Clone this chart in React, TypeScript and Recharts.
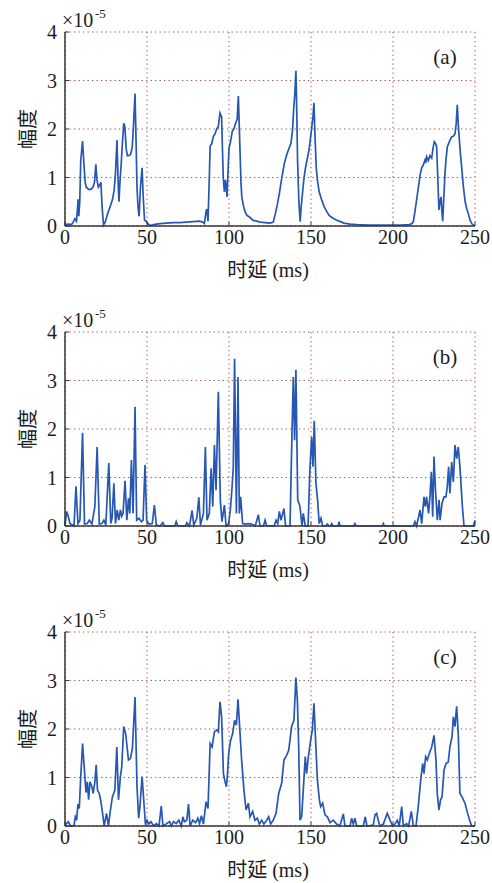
import React from 'react'
import { LineChart, Line, XAxis, YAxis, CartesianGrid } from 'recharts'

// time delay (ms) and amplitude (x1e-5)
const timeA = [
  0, 2, 4, 5, 6, 7, 7.6, 8, 8.4, 9,
  9.6, 10.7, 11.5, 12.3, 13, 14.5, 16, 17, 18, 18.8,
  19.5, 20.3, 21.2, 21.9, 22.6, 23.5, 24.5, 26, 28, 29,
  30, 30.8, 31.7, 32.3, 32.9, 33.5, 34.3, 35, 35.8, 36.5,
  37.3, 38, 39, 40, 41, 41.8, 42.7, 43.3, 43.9, 44.5,
  45.2, 46, 47, 47.7, 48.5, 49.5, 50.5, 52, 54, 58,
  62, 66, 70, 74, 78, 82, 84, 85, 86, 86.5,
  87.2, 88, 88.5, 89.5, 90.5, 91.5, 92.5, 93.5, 94.5, 95.5,
  96, 96.5, 97.2, 97.8, 98.3, 98.8, 99.5, 100, 101, 102,
  103, 104, 105, 105.7, 106.5, 107.3, 107.8, 108.8, 109.7, 111,
  112.7, 114.5, 116.8, 119, 122, 125, 127, 128.3, 129.5, 130.7,
  132, 133.8, 135.5, 137.8, 138.8, 139.4, 140.1, 140.8, 141.3, 141.8,
  142.6, 143.4, 144, 144.8, 145.6, 146.4, 147.5, 148.8, 150, 151.2,
  151.8, 152.5, 153.2, 153.9, 155, 156.5, 158, 159.6, 161, 163,
  165.7, 168, 170, 173.8, 178, 185, 195, 205, 210, 211.5,
  212.4, 213.4, 214.4, 215.5, 216.5, 217.5, 218.5, 219.5, 220, 220.5,
  221.5, 222.5, 223.6, 224.4, 225.2, 226, 226.6, 227.3, 228, 228.6,
  229.3, 229.8, 230.3, 231, 231.7, 232.4, 233.1, 234.5, 235.8, 236.8,
  237.8, 238.5, 239.2, 239.8, 240.9, 241.9, 242.9, 244, 245, 245.9,
  247, 248, 249, 250,
]
const ampA = [
  0.03, 0.04, 0.03, 0.08, 0.15, 0.1, 0.35, 0.55, 0.2, 0.5,
  1.35, 1.75, 1.3, 0.9, 0.8, 0.75, 0.76, 0.8, 0.9, 1.27,
  0.95, 0.8, 0.85, 0.9, 0.4, 0.02, 0.08, 0.25, 0.45, 0.55,
  0.75, 1.1, 1.77, 1.0, 0.5, 0.9, 1.3, 1.7, 2.12, 2.05,
  1.6, 1.45, 1.45, 1.48, 1.62, 2.1, 2.73, 1.8, 0.8, 0.4,
  0.2, 0.8, 1.2, 0.6, 0.12, 0.1, 0.05, 0.01, 0.03, 0.05,
  0.06, 0.07, 0.07, 0.08, 0.09, 0.1, 0.08, 0.05, 0.3, 0.35,
  0.1, 1.0, 1.65, 1.7, 1.85, 1.9, 2.0, 2.05, 2.33, 2.25,
  1.6, 1.0, 0.7, 0.95, 0.8, 0.6, 1.2, 1.6, 1.75, 1.95,
  2.0, 2.12, 2.2, 2.68, 1.8, 0.9, 0.6, 0.42, 0.3, 0.22,
  0.18, 0.12, 0.1, 0.08, 0.07, 0.06, 0.08, 0.26, 0.45, 0.67,
  0.95, 1.3, 1.5, 1.71, 2.0, 2.39, 2.7, 3.2, 2.4, 1.36,
  0.5, 0.09, 0.4, 0.67, 0.95, 1.15, 1.35, 1.57, 1.9, 2.25,
  2.54, 1.8, 1.2, 0.95, 0.7, 0.54, 0.4, 0.3, 0.22, 0.17,
  0.12, 0.09, 0.06, 0.04, 0.03, 0.02, 0.02, 0.02, 0.03, 0.05,
  0.09, 0.3, 0.54, 0.8, 1.05, 1.2, 1.26, 1.36, 1.3, 1.43,
  1.35, 1.45, 1.4, 1.6, 1.74, 1.7, 1.64, 1.0, 0.33, 0.5,
  0.6, 0.3, 0.1, 0.6, 1.09, 1.4, 1.63, 1.75, 1.84, 1.85,
  1.9, 2.1, 2.5, 2.1, 1.57, 1.2, 0.81, 0.5, 0.35, 0.26,
  0.12, 0.05, 0.02, 0.01,
]

const timeB = [
  0, 1, 2, 3, 4, 5.5, 6.7, 7.9, 9.1, 10.7,
  11.9, 13.6, 14.8, 16.4, 18.2, 19.6, 20.9, 22.5, 23.7, 24.9,
  26.7, 27.9, 28.7, 29.8, 30.8, 31.8, 32.8, 33.8, 34.6, 35.4,
  36.6, 37.7, 38.7, 39.5, 40.5, 41.5, 42.7, 43.7, 45.1, 46.6,
  47.6, 48.8, 49.8, 51.2, 53.2, 54.5, 55.7, 58, 59.7, 60.7,
  67, 67.8, 68.8, 73.5, 74.3, 75.9, 77.5, 78.5, 80.4, 81.6,
  82.6, 84.4, 85.6, 86.6, 88, 89.1, 90.1, 91.1, 92.1, 93.5,
  94.7, 95.7, 97.2, 98.2, 99.8, 100.8, 101.6, 102.6, 103.4, 104.5,
  105.5, 106.3, 107.1, 108.3, 109.7, 111.8, 113.8, 116, 117.9, 118.9,
  121, 122, 123, 127.5, 128.7, 129.7, 130.7, 131.7, 133.5, 134.5,
  137.2, 138.4, 139.2, 140, 140.8, 141.9, 143.3, 144.5, 145.3, 146.5,
  148.2, 149.4, 150.4, 151.2, 152, 153, 154, 155, 156.1, 157.1,
  159, 160, 161, 162, 162.6, 163.5, 166.5, 167.1, 167.7, 176,
  176.8, 177.5, 193.5, 194.1, 194.8, 212.4, 213.4, 214.4, 216.5, 217.5,
  218.9, 219.7, 220.5, 221.7, 222.5, 223.4, 224.2, 225, 225.8, 227,
  228.1, 228.7, 229.9, 231.1, 232.3, 233.1, 233.9, 234.7, 235.8, 236.8,
  237.8, 238.8, 239.8, 240.8, 242.3, 243.3, 249, 250,
]
const ampB = [
  0.02, 0.3, 0.2, 0.05, 0.03, 0, 0.82, 0.05, 0.12, 1.92,
  0.04, 0.05, 0.12, 0.04, 0.4, 1.63, 0.04, 0.05, 0.12, 0.02,
  1.3, 0.05, 0.16, 0.88, 0.05, 0.33, 0.12, 0.33, 0.2, 0.26,
  0.93, 0.12, 0.57, 0.26, 1.36, 0.26, 2.46, 0.12, 0.16, 0.09,
  0.12, 1.26, 0.12, 0.04, 0.05, 0.43, 0.02, 0, 0.07, 0,
  0, 0.09, 0, 0, 0.07, 0, 0.32, 0.02, 0.16, 0.59,
  0.02, 0.26, 1.63, 0.12, 0.26, 1.19, 0.4, 1.67, 0.74, 2.77,
  0.54, 0.09, 0.43, 0, 0.05, 0.33, 0.67, 1.19, 3.45, 0.26,
  3.07, 0.26, 0.6, 0.05, 0.04, 0.05, 0.04, 0, 0.23, 0,
  0, 0.12, 0, 0, 0.12, 0.05, 0.3, 0.12, 0.36, 0,
  0, 1.9, 3.07, 1.77, 3.22, 0.54, 0.4, 0, 0.26, 0,
  0, 1.22, 1.84, 1.22, 2.17, 0.88, 0.54, 0.05, 0.16, 0,
  0, 0.04, 0, 0, 0.05, 0, 0, 0.09, 0, 0,
  0.05, 0, 0, 0.05, 0, 0, 0.09, 0, 0.33, 0.05,
  0.6, 0.4, 0.6, 0.26, 0.6, 1.12, 0.19, 1.43, 0.81, 0.12,
  0.54, 0.12, 0.47, 0.6, 0.6, 0.81, 1.22, 0.67, 1.32, 0.91,
  1.67, 1.39, 1.63, 1.22, 0.4, 0, 0, 0.12,
]

const timeC = [
  0, 0.6, 2, 3.4, 5.5, 6.3, 7.1, 7.9, 8.7, 9.5,
  10.7, 11.7, 12.8, 13.6, 14.4, 15.2, 16.4, 17.2, 18.2, 19,
  19.8, 20.9, 21.9, 22.9, 23.9, 25.3, 26.5, 27.7, 28.9, 30.4,
  31.6, 32.6, 33.8, 34.6, 35.8, 37, 38.7, 39.9, 41.1, 42.7,
  43.9, 44.9, 45.7, 47, 48, 49, 50, 51.2, 52.4, 54,
  55.7, 57.3, 58.7, 59.7, 61.7, 63.8, 64.8, 66.2, 67.8, 69.4,
  70.9, 71.9, 72.8, 74.3, 75.3, 76.3, 77.9, 79.6, 81, 82,
  83.2, 84.4, 86, 87.2, 88.5, 89.7, 91.1, 92.5, 93.5, 94.5,
  95.5, 96.6, 97.6, 98.4, 99, 99.8, 101, 102.2, 103.4, 104.5,
  105.5, 107.7, 109.1, 110.4, 111.8, 112.8, 114.4, 115.8, 117.3, 118.5,
  119.9, 121.3, 123, 124.2, 125.4, 127, 128.7, 130.3, 132.1, 133.5,
  135.2, 136.4, 138.2, 139.6, 140.8, 141.7, 142.5, 143.3, 144.3, 145.3,
  146.5, 147.3, 148.4, 149.8, 150.8, 151.8, 152.8, 153.9, 155.1, 155.9,
  157.1, 158.5, 160, 161.6, 163.6, 165.6, 167.6, 169.7, 170.7, 173.8,
  174.8, 175.8, 176.8, 177.8, 181.9, 183.1, 184.1, 188, 189, 190,
  191, 192, 194.1, 196.5, 198.2, 199.8, 201.2, 202.6, 203.8, 205.3,
  206.3, 208.3, 209.5, 211.2, 212.4, 214, 215.4, 216.9, 218.1, 218.9,
  219.9, 220.9, 222.2, 223.6, 225, 226.2, 227, 228, 229, 229.9,
  231.1, 232.3, 233.7, 234.7, 236, 236.8, 237.8, 238.8, 239.8, 240.8,
  242.1, 243.9, 245.5, 247, 248, 250,
]
const ampC = [
  0.02, 0.04, 0.09, 0, 0.01, 0.19, 0.12, 0.45, 0.36, 0.95,
  1.7, 1.22, 0.69, 0.91, 0.54, 0.91, 0.81, 0.67, 0.91, 1.26,
  0.74, 0.67, 0.5, 0.26, 0, 0.26, 0, 0.33, 0.6, 0.74,
  1.63, 0.54, 1.02, 1.22, 2.05, 1.9, 1.36, 1.39, 1.6, 2.66,
  0.81, 0.16, 0.4, 1.02, 0.54, 0.05, 0.12, 0.04, 0.09, 0,
  0.05, 0, 0.41, 0, 0.04, 0.09, 0, 0.09, 0.05, 0.12,
  0, 0.19, 0.09, 0.12, 0.45, 0, 0.12, 0.07, 0.16, 0.05,
  0.21, 0.04, 0.5, 0.36, 1.7, 1.63, 1.94, 1.98, 1.94, 2.56,
  2.25, 1.08, 0.91, 0.81, 1.02, 1.5, 1.77, 1.9, 2.18, 2.08,
  2.61, 1.36, 0.74, 0.33, 0.47, 0.19, 0.3, 0.12, 0.16, 0.04,
  0.12, 0.04, 0.12, 0.19, 0.04, 0.12, 0.26, 0.67, 0.88, 1.36,
  1.46, 1.56, 2.05, 2.18, 3.06, 2.59, 1.63, 0.12, 0.19, 0.74,
  1.43, 1.08, 1.43, 1.77, 1.98, 2.53, 1.77, 0.95, 0.54, 0.4,
  0.47, 0.23, 0.19, 0.07, 0.12, 0.04, 0, 0.25, 0, 0,
  0.16, 0.04, 0.16, 0, 0, 0.19, 0, 0.02, 0.23, 0.26,
  0.12, 0, 0.04, 0.26, 0.12, 0, 0.04, 0.12, 0, 0.4,
  0, 0.05, 0, 0.3, 0, 0, 0.4, 0.95, 1.29, 1.08,
  1.43, 1.36, 1.5, 1.63, 1.87, 1.36, 0.67, 0.33, 0.54, 0.6,
  1.15, 1.29, 1.32, 1.63, 1.84, 2.25, 2.05, 2.47, 1.9, 0.67,
  0.6, 0.47, 0.26, 0.09, 0, 0,
]

const xTicks = [0, 50, 100, 150, 200, 250]
const yTicks = [0, 1, 2, 3, 4]
const tags = ['(a)', '(b)', '(c)']

const SERIF = '"Liberation Serif", "Times New Roman", "Noto Sans CJK SC", serif'
const LINE = '#2557b3'
const AXIS = '#3b3535'
const GRID = '#a3504c'

const tickStyle = { fontSize: 20, fill: '#1c1c1c', fontFamily: SERIF }

const XTitle = (props: any) => {
  const vb = props.viewBox
  return (
    <text
      x={vb.x + vb.width / 2 - 2}
      y={vb.y + 44}
      textAnchor="middle"
      dominantBaseline="central"
      fontSize={20}
      fontFamily={SERIF}
      fill="#1c1c1c"
    >
      时延 (ms)
    </text>
  )
}

const YTitle = (props: any) => {
  const vb = props.viewBox
  const cx = vb.x + vb.width - 39
  const cy = vb.y + vb.height / 2
  return (
    <text
      x={cx}
      y={cy}
      transform={`rotate(-90 ${cx} ${cy})`}
      textAnchor="middle"
      dominantBaseline="central"
      fontSize={20}
      fontFamily='"Noto Sans CJK SC", sans-serif'
      fill="#1c1c1c"
    >
      幅度
    </text>
  )
}

function Panel({ time, amp, tag }: { time: number[]; amp: number[]; tag: string }) {
  const data = time.map((t, i) => ({ t, v: amp[i] }))
  return (
    <div style={{ position: 'relative', width: 492, height: 300 }}>
      <LineChart width={492} height={300} data={data} margin={{ top: 32, right: 17, bottom: 0, left: 0 }}>
        <CartesianGrid stroke={GRID} strokeDasharray="1.3 3.2" strokeWidth={1} />
        <XAxis
          type="number"
          dataKey="t"
          domain={[0, 250]}
          ticks={xTicks}
          height={74}
          interval={0}
          tickSize={-4}
          tickMargin={8}
          tickLine={{ stroke: AXIS, strokeWidth: 1 }}
          tick={tickStyle}
          stroke={AXIS}
          strokeWidth={1.5}
          label={{ content: XTitle }}
        />
        <YAxis
          type="number"
          domain={[0, 4]}
          ticks={yTicks}
          width={65}
          interval={0}
          tickSize={-4}
          tickMargin={12}
          tickLine={{ stroke: AXIS, strokeWidth: 1 }}
          tick={tickStyle}
          stroke={AXIS}
          strokeWidth={1.5}
          label={{ content: YTitle }}
        />
        <Line type="linear" dataKey="v" stroke={LINE} strokeWidth={1.7} dot={false} isAnimationActive={false} />
      </LineChart>
      <span style={{ position: 'absolute', left: 62, top: 10, fontSize: 20, lineHeight: '20px', fontFamily: SERIF, color: '#1c1c1c' }}>
        ×10
      </span>
      <span style={{ position: 'absolute', left: 95, top: 7, fontSize: 13, lineHeight: '13px', fontFamily: SERIF, color: '#1c1c1c' }}>
        -5
      </span>
      <span
        style={{
          position: 'absolute',
          left: 420,
          width: 50,
          textAlign: 'center',
          top: 47,
          fontSize: 21,
          lineHeight: '21px',
          fontFamily: SERIF,
          color: '#1c1c1c',
        }}
      >
        {tag}
      </span>
    </div>
  )
}

export default function App() {
  return (
    <div style={{ position: 'absolute', left: 0, top: 0, width: 492, height: 883, overflow: 'hidden', background: '#fff' }}>
      <Panel time={timeA} amp={ampA} tag={tags[0]} />
      <Panel time={timeB} amp={ampB} tag={tags[1]} />
      <Panel time={timeC} amp={ampC} tag={tags[2]} />
    </div>
  )
}
